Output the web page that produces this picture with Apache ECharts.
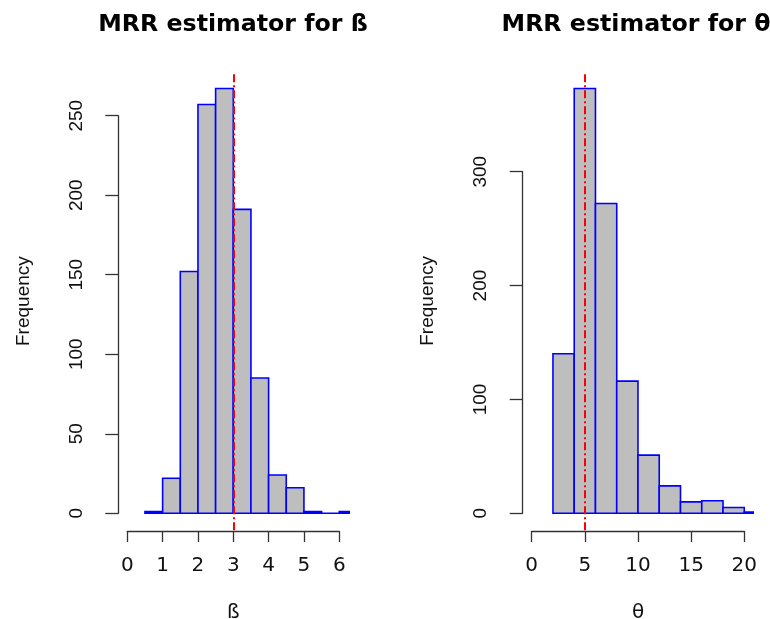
<!DOCTYPE html>
<html>
<head>
<meta charset="utf-8">
<script src="https://cdn.jsdelivr.net/npm/echarts@6/dist/echarts.min.js"></script>
<style>
html,body{margin:0;padding:0;background:#fff;}
#main{width:770px;height:619px;}
</style>
</head>
<body>
<div id="main"></div>
<script>
// MRR estimator for beta : bins of 0.5
var betaBreaks = [0.5, 1, 1.5, 2, 2.5, 3, 3.5, 4, 4.5, 5, 5.5, 6, 6.5];
var betaCounts = [1, 22, 152, 257, 267, 191, 85, 24, 16, 1, 0, 1];
var betaTrue = 3;
var betaTicks = [0, 1, 2, 3, 4, 5, 6];
var betaFreqTicks = [0, 50, 100, 150, 200, 250];

// MRR estimator for theta : bins of 2
var thetaBreaks = [2, 4, 6, 8, 10, 12, 14, 16, 18, 20, 22];
var thetaCounts = [140, 373, 272, 116, 51, 24, 10, 11, 5, 1];
var thetaTrue = 5;
var thetaTicks = [0, 5, 10, 15, 20];
var thetaFreqTicks = [0, 100, 200, 300];

var FONT_H = 'DejaVu Sans';
var FONT_V = 'Liberation Sans';
var INK = '#111';
var AXIS = '#333';

//把断点和频数拼成 [起点, 终点, 频数]
function toBins(breaks, counts){
	var out = [];
	for(var i=0;i<counts.length;i++){
		out.push([breaks[i], breaks[i+1], counts[i]]);
	}
	return out;
}

function renderBin(params, api){
	var p0 = api.coord([api.value(0), api.value(2)]);
	var p1 = api.coord([api.value(1), 0]);
	return {
		type : 'rect',
		shape : {x:p0[0], y:p0[1], width:p1[0]-p0[0], height:p1[1]-p0[1]},
		style : {fill:'#bebebe', stroke:'#0000ff', lineWidth:1.6}
	};
}

function hidden(idx, min, max){
	return {gridIndex:idx, min:min, max:max, show:false};
}

//R风格的坐标轴（只画到首尾刻度）
function xTicksAxis(idx, ticks, name){
	return {
		gridIndex : idx, type:'value',
		min : ticks[0], max : ticks[ticks.length-1], interval : ticks[1]-ticks[0],
		position : 'bottom',
		name : name, nameLocation:'middle', nameGap:72,
		nameTextStyle : {fontFamily:FONT_H, fontSize:20, color:INK},
		axisLine : {show:true, lineStyle:{color:AXIS, width:1.3}},
		axisTick : {show:true, inside:false, length:11, lineStyle:{color:AXIS, width:1.3}},
		axisLabel : {show:true, margin:25, fontFamily:FONT_H, fontSize:20, color:INK},
		splitLine : {show:false}
	};
}

function yTicksAxis(idx, ticks){
	return {
		gridIndex : idx, type:'value',
		min : ticks[0], max : ticks[ticks.length-1], interval : ticks[1]-ticks[0],
		position : 'left',
		axisLine : {show:true, lineStyle:{color:AXIS, width:1.3}},
		axisTick : {show:true, inside:false, length:13, lineStyle:{color:AXIS, width:1.3}},
		axisLabel : {show:true, rotate:90, margin:32, fontFamily:FONT_V, fontSize:19, color:INK},
		splitLine : {show:false}
	};
}

function nameOnlyY(idx, min, max){
	return {
		gridIndex : idx, type:'value', min:min, max:max,
		name : 'Frequency', nameLocation:'middle', nameRotate:90, nameGap:94,
		nameTextStyle : {fontFamily:FONT_V, fontSize:19, color:INK},
		axisLine:{show:false}, axisTick:{show:false}, axisLabel:{show:false}, splitLine:{show:false}
	};
}

function histSeries(idx, bins, trueVal){
	return {
		type : 'custom',
		xAxisIndex : idx, yAxisIndex : idx,
		renderItem : renderBin,
		encode : {x:[0,1], y:2},
		clip : true,
		data : bins,
		markLine : {
			silent : true, symbol : 'none',
			label : {show:false},
			lineStyle : {color:'#ff0000', width:2, type:[8,3,2,3]},
			data : [{xAxis:trueVal}]
		}
	};
}

//v6 默认会把网格收缩到能装下标签，这里关掉
function box(left, top, width, height){
	return {left:left, top:top, width:width, height:height, containLabel:false, outerBoundsMode:'none'};
}

var chart = echarts.init(document.getElementById('main'));
var option = {
	animation : false,
	backgroundColor : '#fff',
	grid : [
		//左图
		box(127.3, 72, 221.5, 458.2),
		box(127.3, 500, 212, 31),
		box(118.3, 115.7, 10, 397.6),
		//右图
		box(531.7, 71.5, 221.6, 458.7),
		box(531.7, 500, 212.6, 31),
		box(522.7, 171.7, 10, 341.6)
	],
	xAxis : [
		hidden(0, 0, 6.27),
		xTicksAxis(1, betaTicks, 'ß'),
		hidden(2, 0, 1),
		hidden(3, 0, 20.85),
		xTicksAxis(4, thetaTicks, 'θ'),
		hidden(5, 0, 1)
	],
	yAxis : [
		nameOnlyY(0, -10.7, 277.4),
		hidden(1, 0, 1),
		yTicksAxis(2, betaFreqTicks),
		nameOnlyY(3, -14.9, 387.9),
		hidden(4, 0, 1),
		yTicksAxis(5, thetaFreqTicks)
	],
	series : [
		histSeries(0, toBins(betaBreaks, betaCounts), betaTrue),
		histSeries(3, toBins(thetaBreaks, thetaCounts), thetaTrue)
	],
	graphic : [
		{type:'text', x:233, y:25, style:{text:'MRR estimator for ß', font:'bold 23.7px "DejaVu Sans"', fill:'#000', align:'center', verticalAlign:'middle'}},
		{type:'text', x:636, y:25, style:{text:'MRR estimator for θ', font:'bold 23.7px "DejaVu Sans"', fill:'#000', align:'center', verticalAlign:'middle'}}
	]
};
chart.setOption(option);
</script>
</body>
</html>
